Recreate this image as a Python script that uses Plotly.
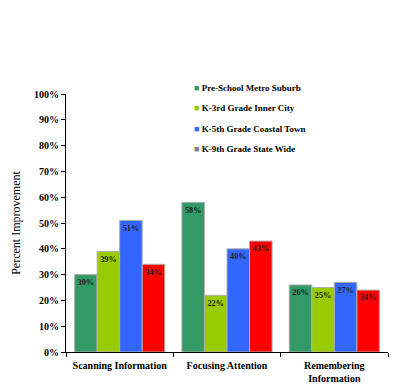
import plotly.graph_objects as go

categories = ["Scanning Information", "Focusing Attention", "Remembering<br>Information"]
series_names = ["Pre-School Metro Suburb", "K-3rd Grade Inner City",
                "K-5th Grade Coastal Town", "K-9th Grade State Wide"]
preschool = [30, 58, 26]
k3 = [39, 22, 25]
k5 = [51, 40, 27]
k9 = [34, 43, 24]
series_values = [preschool, k3, k5, k9]
bar_colors = ["#339966", "#99CC00", "#3366FF", "#FF0000"]
legend_colors = ["#339966", "#99CC00", "#3366FF", "#808080"]
y_ticks = [0, 10, 20, 30, 40, 50, 60, 70, 80, 90, 100]

FONT = "Liberation Serif"
fig = go.Figure()

for name, vals, col in zip(series_names, series_values, bar_colors):
    fig.add_trace(go.Bar(
        x=categories, y=vals, name=name, showlegend=False,
        marker=dict(color=col, line=dict(color="#b0b0b0", width=1)),
        text=[f"<b>{v}%</b>" for v in vals],
        textposition="inside", insidetextanchor="end", textangle=0,
        textfont=dict(family=FONT, size=9, color="#222222"),
        cliponaxis=False,
    ))

# legend drawn as text lines (marker swatch + name)
for i, (name, col) in enumerate(zip(series_names, legend_colors)):
    fig.add_annotation(
        xref="paper", yref="paper", x=0.39, y=1.025 - i * 0.08,
        xanchor="left", yanchor="middle", showarrow=False,
        text=f"<span style='color:{col}'>■</span> <b>{name}</b>",
        font=dict(family=FONT, size=9, color="black"),
    )

fig.update_layout(
    width=392, height=382,
    margin=dict(l=58, r=12, t=86, b=38, autoexpand=False),
    plot_bgcolor="white", paper_bgcolor="white",
    barmode="group", bargap=0.16, bargroupgap=0,
    font=dict(family=FONT, size=10, color="black"),
    showlegend=False,
    xaxis=dict(
        showline=True, linecolor="black", linewidth=1,
        ticks="outside", tickson="boundaries", ticklen=4, tickcolor="black",
        tickfont=dict(family=FONT, size=10, color="black", weight="bold"),
        ticklabelstandoff=4,
        showgrid=False, automargin=False,
    ),
    yaxis=dict(
        range=[0, 100], tickvals=y_ticks,
        ticktext=[f"{t}%" for t in y_ticks],
        showline=True, linecolor="black", linewidth=1,
        ticks="outside", ticklen=4, tickcolor="black",
        tickfont=dict(family=FONT, size=10, color="black", weight="bold"),
        showgrid=False, zeroline=False, automargin=False,
        title=dict(text="Percent Improvement", font=dict(family=FONT, size=12, color="black"), standoff=10),
    ),
)

fig.write_html("out.html")
